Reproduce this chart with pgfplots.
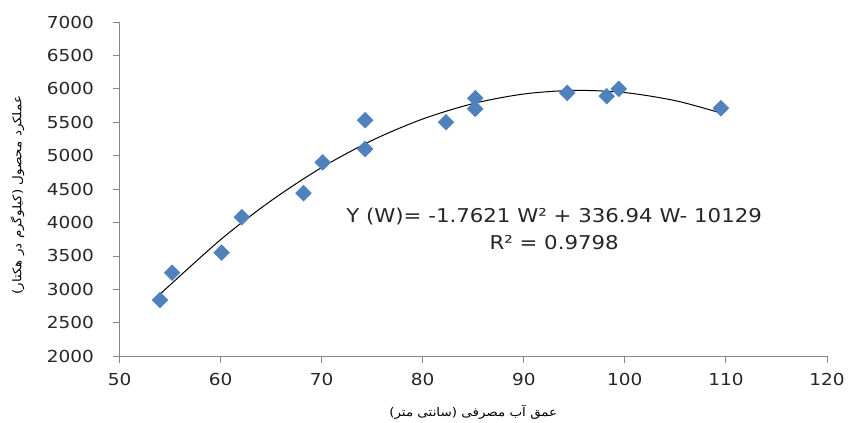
\documentclass[border=0pt]{standalone}
\usepackage{fontspec}
\setmainfont{DejaVu Sans}[FakeStretch=1.12]
\newfontfamily\fa[Script=Arabic,FakeStretch=1.12]{DejaVu Sans}
\TeXXeTstate=1
\usepackage{pgfplots}
\pgfplotsset{compat=1.18}
\definecolor{mk}{HTML}{4F81BD}
\definecolor{ax}{HTML}{868686}

\begin{document}
\begin{tikzpicture}
\begin{axis}[
  scale only axis, width=707pt, height=334pt,
  xmin=50, xmax=120, ymin=2000, ymax=7000,
  xtick={50,60,...,120}, ytick={2000,2500,...,7000},
  axis x line*=bottom, axis y line*=left,
  axis line style={ax, line width=0.9pt},
  tick align=outside, major tick length=7pt,
  tick style={ax, line width=0.9pt},
  /pgf/number format/assume math mode=true,
  /pgf/number format/1000 sep={},
  ticklabel style={font=\fontsize{16.5}{18}\selectfont, color=black!85},
  y tick label style={xshift=-15pt},
  x tick label style={yshift=-6pt},
  xlabel={\fa\fontsize{12}{14}\selectfont\beginR عمق آب مصرفی (سانتی متر)\endR},
  ylabel={\fa\fontsize{12}{14}\selectfont\beginR عملکرد محصول (کیلوگرم در هکتار)\endR},
  xlabel style={at={(axis description cs:0.5,0)}, anchor=center, yshift=-56pt},
  ylabel style={at={([xshift=-102pt,yshift=-6pt]axis description cs:0,0.5)}, anchor=center},
  clip=false,
]
\path[draw=none] ([xshift=-119.5pt,yshift=-65pt]rel axis cs:0,0) rectangle ([xshift=22pt,yshift=22pt]rel axis cs:1,1);
\addplot[black, line width=1pt, smooth] coordinates {
  (54,2928)(60,3744)(65,4327)(70,4823)(75,5230)(80,5549)
  (85,5780)(90,5923)(95,5977)(100,5944)(105,5823)(109.4,5643)};
\addplot[only marks, mark=square*, mark size=5.6pt,
  mark options={rotate=45, fill=mk, draw=mk}] coordinates {
  (54.0,2840)(55.2,3250)(60.1,3550)(62.1,4080)(68.2,4440)
  (70.1,4900)(74.3,5530)(74.3,5100)(82.3,5500)(85.2,5860)
  (85.2,5700)(94.3,5940)(98.2,5890)(99.4,6000)(109.5,5710)};
\node[align=center, font=\fontsize{19}{27}\selectfont, color=black!85] at (axis cs:93.0,3900)
  {Y (W)= -1.7621 W² + 336.94 W- 10129\\R² = 0.9798};
\end{axis}
\end{tikzpicture}
\end{document}
